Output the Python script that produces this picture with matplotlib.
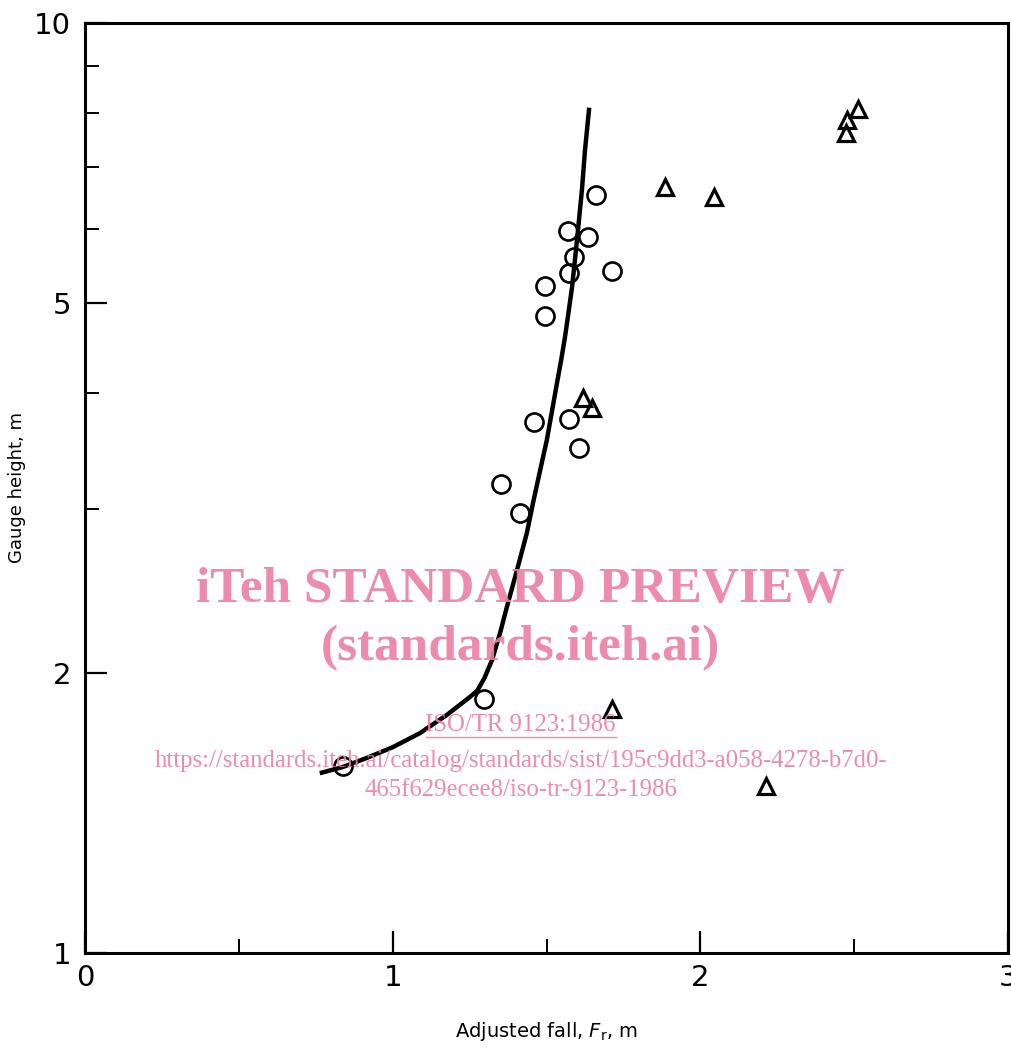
import numpy as np
import matplotlib.pyplot as plt
from matplotlib.ticker import FixedLocator, NullFormatter

# measured points, circles
circle_fall = [0.838, 1.297, 1.352, 1.414, 1.459, 1.573, 1.605, 1.495, 1.495,
               1.573, 1.589, 1.713, 1.570, 1.635, 1.661]
circle_gauge = [1.589, 1.876, 3.194, 2.972, 3.724, 3.752, 3.491, 4.842, 5.214,
                5.386, 5.603, 5.412, 5.975, 5.887, 6.531]

# measured points, triangles
tri_fall = [1.713, 2.213, 1.618, 1.648, 1.885, 2.044, 2.473, 2.476, 2.512]
tri_gauge = [1.830, 1.512, 3.953, 3.855, 6.664, 6.500, 7.615, 7.864, 8.082]

# fitted curve
curve_fall = [0.770, 0.838, 0.916, 1.001, 1.089, 1.176, 1.251, 1.275, 1.298,
              1.323, 1.349, 1.371, 1.404, 1.436, 1.456, 1.478, 1.501, 1.518,
              1.534, 1.548, 1.560, 1.572, 1.583, 1.599, 1.615, 1.625, 1.638]
curve_gauge = [1.563, 1.585, 1.621, 1.665, 1.724, 1.803, 1.885, 1.915, 1.975,
               2.066, 2.209, 2.355, 2.581, 2.829, 3.047, 3.290, 3.562, 3.830,
               4.102, 4.350, 4.597, 4.900, 5.202, 5.843, 6.613, 7.302, 8.064]

x_major = [0, 1, 2, 3]
x_minor = [0.5, 1.5, 2.5]
y_major = [1, 2, 5, 10]
y_minor = [3, 4, 6, 7, 8, 9]

pink = '#ec7fa3'

fig = plt.figure(figsize=(10.11, 10.49), dpi=100)
ax = fig.add_axes([0.0841, 0.0915, 0.913, 0.8866])

ax.plot(curve_fall, curve_gauge, color='black', lw=3.2, solid_joinstyle='round', zorder=3)
ax.plot(circle_fall, circle_gauge, 'o', ms=13, mfc='none', mec='black', mew=1.9, zorder=4)
ax.plot(tri_fall, tri_gauge, '^', ms=11.5, mfc='none', mec='black', mew=2.3, zorder=4)

ax.set_yscale('log')
ax.set_xlim(0, 3)
ax.set_ylim(1, 10)

ax.xaxis.set_major_locator(FixedLocator(x_major))
ax.xaxis.set_minor_locator(FixedLocator(x_minor))
ax.yaxis.set_major_locator(FixedLocator(y_major))
ax.yaxis.set_minor_locator(FixedLocator(y_minor))
ax.yaxis.set_minor_formatter(NullFormatter())
ax.set_xticklabels([str(v) for v in x_major])
ax.set_yticklabels([str(v) for v in y_major])

ax.tick_params(which='major', direction='in', length=16, width=1.6, pad=10)
ax.tick_params(which='minor', direction='in', length=10, width=1.4)
ax.tick_params(axis='x', which='major', pad=8)
for lab in ax.get_xticklabels() + ax.get_yticklabels():
    lab.set_fontsize(21)

for side in ['top', 'right', 'left', 'bottom']:
    ax.spines[side].set_linewidth(2.2)

ax.set_xlabel('Adjusted fall, $F_\\mathrm{r}$, m', fontsize=14)
ax.xaxis.set_label_coords(0.5, -0.072)
ax.set_ylabel('Gauge height, m', fontsize=13)
ax.yaxis.set_label_coords(-0.064, 0.5)

# watermark
fig.text(0.515, 0.438, 'iTeh STANDARD PREVIEW', color=pink, fontsize=37,
         family='Liberation Serif', weight='bold', ha='center', va='center', alpha=0.9, zorder=10)
fig.text(0.515, 0.382, '(standards.iteh.ai)', color=pink, fontsize=37,
         family='Liberation Serif', weight='bold', ha='center', va='center', alpha=0.9, zorder=10)
fig.text(0.515, 0.309, 'ISO/TR 9123:1986', color=pink, fontsize=17.8,
         family='Liberation Serif', ha='center', va='center', alpha=0.9, zorder=10)
fig.lines.append(plt.Line2D([0.421, 0.609], [0.297, 0.297], color=pink, lw=1,
                            transform=fig.transFigure, alpha=0.9))
fig.text(0.515, 0.275, 'https://standards.iteh.ai/catalog/standards/sist/195c9dd3-a058-4278-b7d0-',
         color=pink, fontsize=17.8, family='Liberation Serif', ha='center', va='center', alpha=0.9, zorder=10)
fig.text(0.515, 0.247, '465f629ecee8/iso-tr-9123-1986', color=pink, fontsize=17.8,
         family='Liberation Serif', ha='center', va='center', alpha=0.9, zorder=10)

fig.savefig('out.png', dpi=100)
